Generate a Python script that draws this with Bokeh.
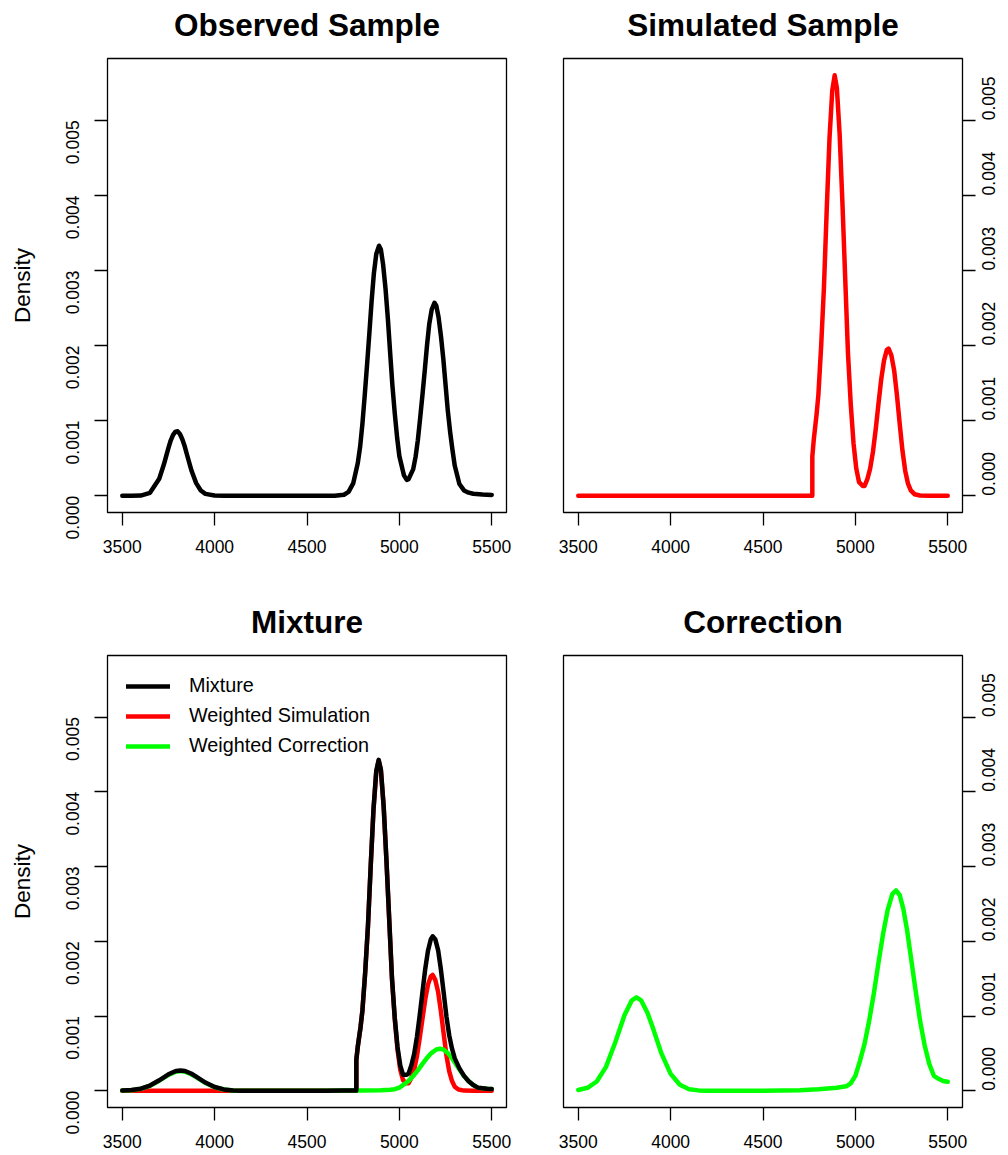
import math
from bokeh.plotting import figure
from bokeh.models import Range1d, FixedTicker, PrintfTickFormatter, Legend, LegendItem, LinearAxis
from bokeh.layouts import column, row
from bokeh.embed import file_html
from bokeh.resources import INLINE

# ---------------- data ----------------
x_ticks = [3500, 4000, 4500, 5000, 5500]
y_ticks = [0.0, 0.001, 0.002, 0.003, 0.004, 0.005]

obs_x = [3500, 3550, 3600, 3650, 3700, 3725, 3750, 3762, 3775, 3788, 3800, 3812, 3825, 3838, 3850,
         3875, 3900, 3925, 3950, 4000, 4050, 4650, 4700, 4725, 4750, 4775, 4788, 4800, 4812, 4825,
         4838, 4850, 4862, 4875, 4890, 4900, 4912, 4925, 4938, 4950, 4962, 4975, 4988, 5000, 5025,
         5040, 5050, 5075, 5088, 5100, 5112, 5125, 5138, 5150, 5162, 5175, 5190, 5200, 5212, 5225,
         5238, 5250, 5262, 5275, 5288, 5300, 5325, 5350, 5375, 5400, 5450, 5500]
obs_y = [0.0, 0.0, 0.000002, 0.000038, 0.000225, 0.000415, 0.000637, 0.000735, 0.00081, 0.000853,
         0.000857, 0.000822, 0.000752, 0.000658, 0.000549, 0.000332, 0.000167, 0.00007, 0.000024,
         0.000002, 0.0, 0.0, 0.000013, 0.00005, 0.000163, 0.000436, 0.00066, 0.000957, 0.00132,
         0.00174, 0.00218, 0.0026, 0.00296, 0.00322, 0.00333, 0.00328, 0.00308, 0.00276, 0.00235,
         0.00191, 0.00148, 0.0011, 0.00077, 0.000527, 0.00027, 0.00021, 0.00022, 0.000354, 0.00052,
         0.000738, 0.00102, 0.00134, 0.00168, 0.00201, 0.00229, 0.00248, 0.00257, 0.00253, 0.00238,
         0.00213, 0.00182, 0.00148, 0.00114, 0.000846, 0.0006, 0.000398, 0.000155, 0.00007, 0.00004,
         0.000025, 0.000015, 0.00001]

sim_x = [3500, 4767, 4767, 4775, 4790, 4800, 4815, 4830, 4845, 4860, 4875, 4888, 4900, 4915, 4930,
         4945, 4960, 4975, 4990, 5005, 5020, 5040, 5050, 5065, 5080, 5095, 5110, 5125, 5140, 5155,
         5170, 5180, 5195, 5210, 5225, 5240, 5255, 5270, 5285, 5300, 5320, 5350, 5400, 5500]
sim_y = [0.0, 0.0, 0.00052, 0.00075, 0.00108, 0.00135, 0.0020, 0.00278, 0.00381, 0.00476, 0.0054,
         0.0056, 0.00543, 0.00481, 0.0039, 0.0029, 0.0019, 0.00122, 0.0007, 0.00036, 0.00018, 0.00013,
         0.00013, 0.00022, 0.00036, 0.00058, 0.00088, 0.00122, 0.00155, 0.0018, 0.00194, 0.00196,
         0.00187, 0.00167, 0.00134, 0.00096, 0.0006, 0.00033, 0.00016, 0.00007, 0.00002, 0.000003,
         0.0, 0.0]
wsim_y = [0.0, 0.0, 0.00041, 0.00059, 0.00085, 0.00107, 0.00158, 0.0022, 0.00301, 0.00376, 0.00427,
          0.00442, 0.00429, 0.0038, 0.00308, 0.00229, 0.0015, 0.00096, 0.00055, 0.00028, 0.00014,
          0.0001, 0.0001, 0.00017, 0.00028, 0.00046, 0.0007, 0.00096, 0.00122, 0.00142, 0.00153,
          0.00155, 0.00148, 0.00132, 0.00106, 0.00076, 0.00047, 0.00026, 0.00013, 0.000055,
          0.000016, 0.000002, 0.0, 0.0]

corr_x = [3500, 3550, 3600, 3650, 3700, 3750, 3790, 3815, 3840, 3875, 3900, 3950, 4000, 4050, 4100,
          4150, 4200, 4300, 4400, 4500, 4600, 4700, 4800, 4900, 4950, 4975, 5000, 5025, 5050, 5075,
          5100, 5125, 5150, 5175, 5200, 5220, 5240, 5260, 5280, 5300, 5325, 5350, 5375, 5400, 5425,
          5450, 5475, 5500]
corr_y = [0.00001, 0.00004, 0.000124, 0.00032, 0.000645, 0.00101, 0.00121, 0.00125, 0.00121,
          0.00104, 0.00087, 0.0005, 0.000226, 0.00008, 0.000021, 0.000005, 0.000001, 0.0, 0.0,
          0.000001, 0.000003, 0.000008, 0.00002, 0.00004, 0.00006, 0.0001, 0.0002, 0.0004, 0.00063,
          0.00094, 0.0013, 0.00171, 0.0021, 0.00242, 0.00263, 0.00268, 0.00262, 0.00243, 0.00215,
          0.0018, 0.00136, 0.00094, 0.00061, 0.00036, 0.0002, 0.00016, 0.00013, 0.00012]
wcorr_y = [0.000002, 0.000008, 0.000026, 0.000067, 0.000135, 0.000212, 0.000254, 0.000263, 0.000254,
           0.000218, 0.000183, 0.000105, 0.000047, 0.000017, 0.000004, 0.000001, 0.0, 0.0, 0.0, 0.0,
           0.000001, 0.000002, 0.000004, 0.000008, 0.000013, 0.000021, 0.000042, 0.000084, 0.000132,
           0.000197, 0.000273, 0.000359, 0.000441, 0.000508, 0.000552, 0.000563, 0.00055, 0.00051,
           0.000452, 0.000378, 0.000286, 0.000197, 0.000128, 0.000076, 0.000042, 0.000034, 0.000027,
           0.000025]

mix_x = [3500, 3550, 3600, 3650, 3700, 3750, 3790, 3815, 3840, 3875, 3900, 3950, 4000, 4050, 4100,
         4150, 4200, 4300, 4400, 4500, 4600, 4700, 4767, 4767, 4775, 4790, 4800, 4815, 4830, 4845,
         4860, 4875, 4888, 4900, 4915, 4930, 4945, 4960, 4975, 4990, 5005, 5020, 5040, 5050, 5065,
         5080, 5095, 5110, 5125, 5140, 5155, 5170, 5180, 5195, 5210, 5225, 5240, 5255, 5270, 5285,
         5300, 5325, 5350, 5375, 5400, 5425, 5450, 5475, 5500]
mix_y = [0.000002, 0.000009, 0.000028, 0.00007, 0.00014, 0.00022, 0.000265, 0.000272, 0.000265,
         0.000227, 0.00019, 0.00011, 0.00005, 0.000018, 0.000004, 0.000001, 0.0, 0.0, 0.0, 0.0,
         0.000001, 0.000002, 0.000003, 0.000413, 0.000594, 0.000855, 0.001075, 0.001585, 0.002206,
         0.003017, 0.003767, 0.004278, 0.004427, 0.004298, 0.003809, 0.003089, 0.002301, 0.001509,
         0.000981, 0.000585, 0.000336, 0.000214, 0.000213, 0.000232, 0.000341, 0.000491, 0.000718,
         0.001005, 0.001319, 0.001628, 0.001874, 0.002025, 0.002067, 0.002023, 0.001878, 0.00162,
         0.00131, 0.00099, 0.000741, 0.000563, 0.000433, 0.0003, 0.000199, 0.000128, 0.000076,
         0.000042, 0.000034, 0.000027, 0.000025]

titles = ["Observed Sample", "Simulated Sample", "Mixture", "Correction"]
legend_labels = ["Mixture", "Weighted Simulation", "Weighted Correction"]

FONT = "Liberation Sans"
LW = 4.5
X_LO, X_HI = 3420, 5580
Y_LO, Y_HI = -0.000224, 0.005824


def make_panel(title, width, height, bl, br, bt, bb, yside, ylabel):
    p = figure(width=width, height=height,
               x_range=Range1d(X_LO, X_HI), y_range=Range1d(Y_LO, Y_HI),
               output_backend="svg", toolbar_location=None,
               min_border_left=bl, min_border_right=br, min_border_top=bt, min_border_bottom=bb,
               y_axis_location=yside)
    p.grid.visible = False
    p.background_fill_color = "white"
    p.border_fill_color = "white"
    p.outline_line_color = "black"
    p.outline_line_width = 1.3
    p.outline_line_alpha = 1.0

    xax = p.below[0]
    yax = p.yaxis[0]
    for ax in (xax, yax):
        ax.axis_line_color = None
        ax.major_tick_out = 13
        ax.major_tick_in = 0
        ax.minor_tick_line_color = None
        ax.major_tick_line_color = "black"
        ax.major_tick_line_width = 1.3
        ax.major_label_text_font = FONT
        ax.major_label_text_font_size = "17.5px"
        ax.major_label_text_color = "black"

    xax.ticker = FixedTicker(ticks=x_ticks)
    xax.major_label_standoff = 14
    yax.ticker = FixedTicker(ticks=y_ticks)
    yax.formatter = PrintfTickFormatter(format="%.3f")
    yax.major_label_orientation = math.pi / 2
    yax.major_label_standoff = 22 if yside == "left" else 13
    if ylabel:
        yax.axis_label = ylabel
        yax.axis_label_text_font = FONT
        yax.axis_label_text_font_style = "normal"
        yax.axis_label_text_font_size = "22.5px"
        yax.axis_label_text_color = "black"
        yax.axis_label_standoff = 22

    # panel title: label of a tick-less axis above the frame
    top = LinearAxis(ticker=FixedTicker(ticks=[]), axis_label=title)
    top.axis_line_color = None
    top.major_tick_line_color = None
    top.minor_tick_line_color = None
    top.major_tick_out = 13
    top.major_tick_in = 0
    top.major_label_text_font_size = "17.5px"
    top.axis_label_standoff = 16
    top.axis_label_text_font = FONT
    top.axis_label_text_font_style = "bold"
    top.axis_label_text_font_size = "31.5px"
    top.axis_label_text_color = "black"
    p.add_layout(top, "above")
    return p


line_kw = dict(line_width=LW, line_cap="round", line_join="round")

p1 = make_panel(titles[0], 534, 600, 107, 28, 58, 88, "left", "Density")
p1.line(obs_x, obs_y, line_color="black", **line_kw)

p2 = make_panel(titles[1], 474, 600, 29, 46, 58, 88, "right", None)
p2.line(sim_x, sim_y, line_color="#ff0000", **line_kw)

p3 = make_panel(titles[2], 534, 555, 107, 28, 54, 48, "left", "Density")
r_sim = p3.line(sim_x, wsim_y, line_color="#ff0000", **line_kw)
r_cor = p3.line(corr_x, wcorr_y, line_color="#00ff00", **line_kw)
r_mix = p3.line(mix_x, mix_y, line_color="black", **line_kw)
legend = Legend(items=[LegendItem(label=legend_labels[0], renderers=[r_mix]),
                       LegendItem(label=legend_labels[1], renderers=[r_sim]),
                       LegendItem(label=legend_labels[2], renderers=[r_cor])],
                location="top_left")
legend.border_line_color = None
legend.background_fill_alpha = 0
legend.glyph_width = 44
legend.glyph_height = 22
legend.label_height = 22
legend.label_standoff = 19
legend.spacing = 7
legend.padding = 12
legend.margin = 19
legend.label_text_font = FONT
legend.label_text_font_size = "19.8px"
legend.label_text_color = "black"
p3.add_layout(legend)

p4 = make_panel(titles[3], 474, 555, 29, 46, 54, 48, "right", None)
p4.line(corr_x, corr_y, line_color="#00ff00", **line_kw)

layout = column(row(p1, p2), row(p3, p4))
open("out.html", "w").write(file_html(layout, INLINE, "Density panels"))
